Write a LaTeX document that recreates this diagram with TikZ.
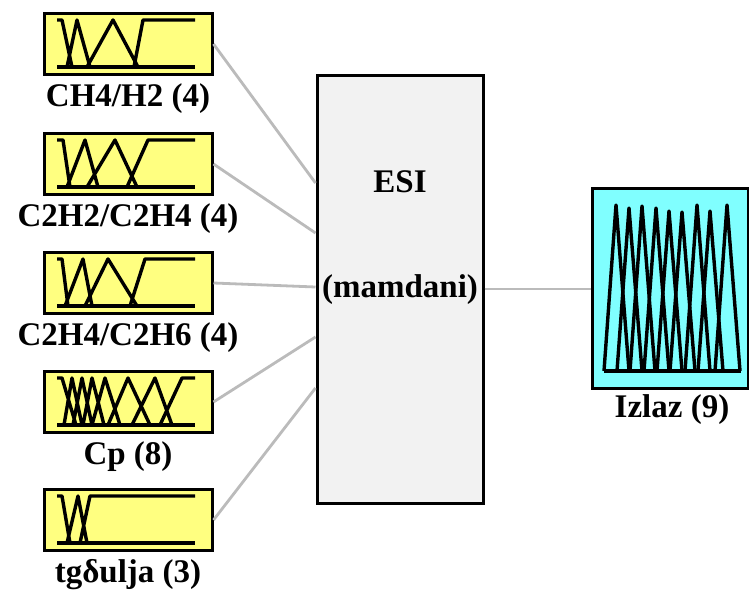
\documentclass[tikz,border=0pt]{standalone}
\usepackage{fontspec}
\setmainfont{Liberation Serif}
\usetikzlibrary{positioning}
\definecolor{inbox}{HTML}{FFFF80}
\definecolor{outbox}{HTML}{80FFFF}
\definecolor{sysbox}{HTML}{F2F2F2}
\definecolor{wiregray}{HTML}{BBBBBB}
\tikzset{px/.style={x=1pt,y=-1pt,line width=3pt,font=\fontsize{33}{38}\selectfont\bfseries},
  varbox/.style={draw,fill=inbox,minimum width=168pt,minimum height=61pt,inner sep=0pt},
  mf/.style={line width=3.4pt,line join=round},
  link/.style={wiregray,line width=2.8pt}}
\begin{document}
\begin{tikzpicture}[px]
  \useasboundingbox (0,0) rectangle (749,594);
  % input variables
  \node[varbox] (in1) at (128,44){};\node[below=3pt of in1] (lab1){CH4/H2 (4)};
  \node[varbox] (in2) at (128,164){};\node[below=3pt of in2] (lab2){C2H2/C2H4 (4)};
  \node[varbox] (in3) at (128,283){};\node[below=3pt of in3] (lab3){C2H4/C2H6 (4)};
  \node[varbox] (in4) at (128,402){};\node[below=3pt of in4] (lab4){Cp (8)};
  \node[varbox] (in5) at (128,520){};\node[below=3pt of in5] (lab5){tgδulja (3)};
  % system and output
  \node[draw,fill=sysbox,minimum width=166pt,minimum height=428pt,inner sep=0pt] (esi) at (400,289){};
  \node (esiname) at (400,182){ESI};\node (esitype) at (400,290){(mamdani)};
  \node[draw,fill=outbox,minimum width=156pt,minimum height=200pt,inner sep=0pt] (out) at (670,288){};
  \node (outlab) at (672,410){Izlaz (9)};
  % membership functions
  \begin{scope}[shift={(0,44)}]
    \draw[mf] (57,23)--(195,23);
    \draw[mf] (57,-24)--(62,-24)--(72,23) (67,23)--(77,-24)--(90,23) (87,23)--(113,-24)--(138,23) (134,23)--(143,-24)--(195,-24);
  \end{scope}
  \begin{scope}[shift={(0,164)}]
    \draw[mf] (57,23)--(195,23);
    \draw[mf] (57,-24)--(63,-24)--(70,23) (67,23)--(85,-24)--(98,23) (87,23)--(115,-24)--(137,23) (127,23)--(148,-24)--(195,-24);
  \end{scope}
  \begin{scope}[shift={(0,283)}]
    \draw[mf] (57,23)--(195,23);
    \draw[mf] (57,-24)--(62,-24)--(68,23) (65,23)--(83,-24)--(92,23) (85,23)--(108,-24)--(137,23) (130,23)--(145,-24)--(195,-24);
  \end{scope}
  \begin{scope}[shift={(0,402)}]
    \draw[mf] (57,23)--(195,23);
    \draw[mf] (57,-24)--(62,-24)--(76,23) (64,23)--(72,-24)--(82,23) (73,23)--(82,-24)--(92,23) (83,23)--(92,-24)--(104,23)
      (92,23)--(105,-24)--(120,23) (108,23)--(128,-24)--(150,23) (132,23)--(155,-24)--(172,23) (160,23)--(182,-24)--(195,-24);
  \end{scope}
  \begin{scope}[shift={(0,520)}]
    \draw[mf] (57,23)--(195,23);
    \draw[mf] (57,-24)--(62,-24)--(70,23) (67,23)--(78,-24)--(87,23) (80,23)--(90,-24)--(195,-24);
  \end{scope}
  \draw[mf] (604,371)--(741,371);
  \foreach \p/\h in {616/205,629/208,642/206,656/208,669/211,682/212,697/205,710/211,727/205}
    \draw[mf] (\p-12,371)--(\p,\h)--(\p+13,371);
  % connections
  \coordinate (e1) at ([yshift=106pt]esi.west);\coordinate (e2) at ([yshift=56pt]esi.west);
  \coordinate (e3) at ([yshift=2pt]esi.west);\coordinate (e4) at ([yshift=-48pt]esi.west);
  \coordinate (e5) at ([yshift=-99pt]esi.west);
  \foreach \i in {1,...,5} \draw[link] (in\i.east)--(e\i);
  \draw[link] (esi.east)--(esi.east -| out.west);
\end{tikzpicture}
\end{document}
